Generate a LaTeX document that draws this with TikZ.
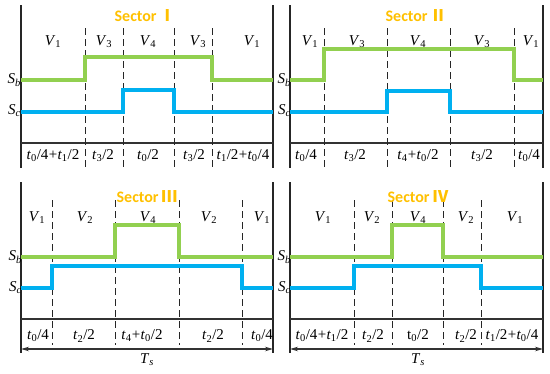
\documentclass[tikz,border=0pt]{standalone}
\usepackage{fontspec}
\setmainfont{Liberation Serif}
\newfontfamily\titlefont{Carlito}
\newfontfamily\cjkfont{Noto Sans CJK SC}
\usetikzlibrary{arrows.meta}
\definecolor{sgreen}{HTML}{92D050}
\definecolor{sblue}{HTML}{00B0F0}
\definecolor{sorange}{HTML}{FFC000}
\newcommand\vv[1]{\textit{V}\textsubscript{#1}}
\newcommand\tsb[1]{\textit{t}\textsubscript{#1}}
\newcommand\sig[1]{\textit{S}\textsubscript{\textit{#1}}}
\newcommand\plus{\kern0.3pt+\kern0.3pt}
\tikzset{
  border/.style={line width=1.5pt, black!85},
  baseline/.style={line width=1.1pt, black!80},
  divider/.style={line width=1pt, black!85, dash pattern=on 7pt off 4pt},
  gsig/.style={line width=3.2pt, sgreen},
  bsig/.style={line width=3.2pt, sblue},
  lbl/.style={inner sep=0pt, font=\fontsize{15}{17}\selectfont},
  title/.style={inner sep=0pt, text=sorange, font=\fontsize{16}{18}\selectfont\titlefont\bfseries},
  period/.style={line width=1.1pt, black!80, {Stealth[length=8pt,width=4.5pt]}-{Stealth[length=8pt,width=4.5pt]}},
}
\begin{document}
\begin{tikzpicture}[x=1pt,y=-1pt]
\useasboundingbox (0,0) rectangle (550,373);
% ===== Panel 1 =====
\draw[border] (21,5) -- (21,168);
\draw[border] (273,5) -- (273,168);
\draw[baseline] (21,143) -- (273,143);
\foreach \x in {85,123,174,212} \draw[divider] (\x,28) -- (\x,167);
\draw[gsig] (21,80) -- (85,80) -- (85,57) -- (212,57) -- (212,80) -- (273,80);
\draw[bsig] (21,112) -- (123,112) -- (123,90) -- (174,90) -- (174,112) -- (273,112);
\node[title] (t1) at (145,16) {Sector\,{\cjkfont Ⅰ}};
\node[lbl] (a1) at (53,42) {\vv{1}};
\node[lbl] (a2) at (104,42) {\vv{3}};
\node[lbl] (a3) at (148,42) {\vv{4}};
\node[lbl] (a4) at (198,42) {\vv{3}};
\node[lbl] (a5) at (252,42) {\vv{1}};
\node[lbl,anchor=east] (sb1) at (21,80) {\sig{b}};
\node[lbl,anchor=east] (sc1) at (21,111) {\sig{c}};
\node[lbl] (b1) at (53,156) {\tsb{0}/4\plus\tsb{1}/2};
\node[lbl] (b2) at (103,156) {\tsb{3}/2};
\node[lbl] (b3) at (148,156) {\tsb{0}/2};
\node[lbl] (b4) at (194,156) {\tsb{3}/2};
\node[lbl] (b5) at (243,156) {\tsb{1}/2\plus\tsb{0}/4};
% ===== Panel 2 =====
\draw[border] (290,5) -- (290,168);
\draw[border] (543,5) -- (543,168);
\draw[baseline] (290,143) -- (543,143);
\foreach \x in {324,387,450,514} \draw[divider] (\x,28) -- (\x,167);
\draw[gsig] (290,80) -- (324,80) -- (324,49) -- (514,49) -- (514,80) -- (543,80);
\draw[bsig] (290,112) -- (387,112) -- (387,91) -- (450,91) -- (450,112) -- (543,112);
\node[title] (t2) at (416,16) {Sector\,{\cjkfont Ⅱ}};
\node[lbl] (c1) at (310,42) {\vv{1}};
\node[lbl] (c2) at (357,42) {\vv{3}};
\node[lbl] (c3) at (418,42) {\vv{4}};
\node[lbl] (c4) at (482,42) {\vv{3}};
\node[lbl] (c5) at (531,42) {\vv{1}};
\node[lbl,anchor=east] (sb2) at (291,80) {\sig{b}};
\node[lbl,anchor=east] (sc2) at (291,111) {\sig{c}};
\node[lbl] (d1) at (306,156) {\tsb{0}/4};
\node[lbl] (d2) at (355,156) {\tsb{3}/2};
\node[lbl] (d3) at (418,156) {\tsb{4}\plus\tsb{0}/2};
\node[lbl] (d4) at (482,156) {\tsb{3}/2};
\node[lbl] (d5) at (529,156) {\tsb{0}/4};
% ===== Panel 3 =====
\draw[border] (21,182) -- (21,353);
\draw[border] (273,182) -- (273,353);
\draw[baseline] (21,319) -- (273,319);
\foreach \x in {52,115,179,242} \draw[divider] (\x,200) -- (\x,345);
\draw[gsig] (21,257) -- (115,257) -- (115,225) -- (179,225) -- (179,257) -- (273,257);
\draw[bsig] (21,288) -- (52,288) -- (52,266) -- (242,266) -- (242,288) -- (273,288);
\node[title] (t3) at (147,197) {Sector\,{\cjkfont Ⅲ}};
\node[lbl] (e1) at (37,218) {\vv{1}};
\node[lbl] (e2) at (85,218) {\vv{2}};
\node[lbl] (e3) at (148,218) {\vv{4}};
\node[lbl] (e4) at (209,218) {\vv{2}};
\node[lbl] (e5) at (262,218) {\vv{1}};
\node[lbl,anchor=east] (sb3) at (22,257) {\sig{b}};
\node[lbl,anchor=east] (sc3) at (22,288) {\sig{c}};
\node[lbl] (f1) at (38,336) {\tsb{0}/4};
\node[lbl] (f2) at (84,336) {\tsb{2}/2};
\node[lbl] (f3) at (142,336) {\tsb{4}\plus\tsb{0}/2};
\node[lbl] (f4) at (213,336) {\tsb{2}/2};
\node[lbl] (f5) at (262,336) {\tsb{0}/4};
\coordinate (L3) at (21,349);
\coordinate (R3) at (273,349);
\draw[period] (L3) -- (R3);
\node[lbl] (ts3) at (147,360) {\textit{T}\textsubscript{\textit{s}}};
% ===== Panel 4 =====
\draw[border] (290,182) -- (290,353);
\draw[border] (543,182) -- (543,353);
\draw[baseline] (290,319) -- (543,319);
\foreach \x in {354,392,443,481} \draw[divider] (\x,200) -- (\x,345);
\draw[gsig] (290,257) -- (392,257) -- (392,225) -- (443,225) -- (443,257) -- (543,257);
\draw[bsig] (290,288) -- (354,288) -- (354,266) -- (481,266) -- (481,288) -- (543,288);
\node[title] (t4) at (418,197) {Sector\,{\cjkfont Ⅳ}};
\node[lbl] (g1) at (323,218) {\vv{1}};
\node[lbl] (g2) at (372,218) {\vv{2}};
\node[lbl] (g3) at (418,218) {\vv{4}};
\node[lbl] (g4) at (466,218) {\vv{2}};
\node[lbl] (g5) at (515,218) {\vv{1}};
\node[lbl,anchor=east] (sb4) at (291,257) {\sig{b}};
\node[lbl,anchor=east] (sc4) at (291,288) {\sig{c}};
\node[lbl] (h1) at (322,336) {\tsb{0}/4\plus\tsb{1}/2};
\node[lbl] (h2) at (373,336) {\tsb{2}/2};
\node[lbl] (h3) at (418,336) {t\textsubscript{0}/2};
\node[lbl] (h4) at (466,336) {\tsb{2}/2};
\node[lbl] (h5) at (512,336) {\tsb{1}/2\plus\tsb{0}/4};
\coordinate (L4) at (290,349);
\coordinate (R4) at (543,349);
\draw[period] (L4) -- (R4);
\node[lbl] (ts4) at (418,360) {\textit{T}\textsubscript{\textit{s}}};
\end{tikzpicture}
\end{document}
